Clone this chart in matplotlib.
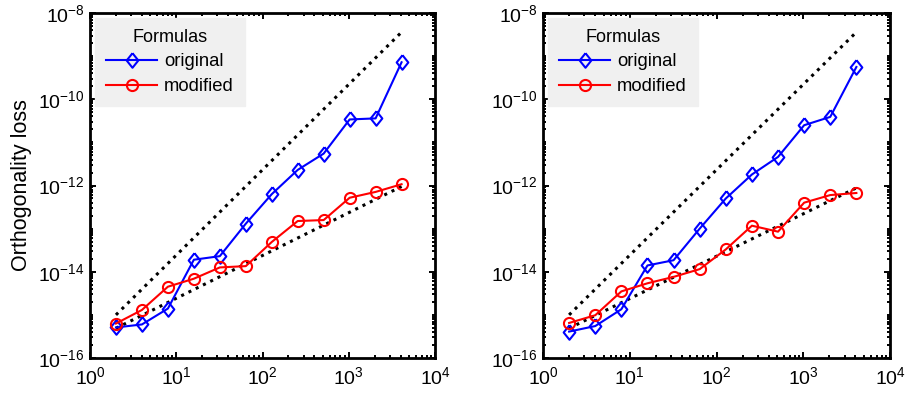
import matplotlib
matplotlib.use('Agg')
import matplotlib.pyplot as plt
from matplotlib.ticker import LogLocator, NullFormatter

plt.rcParams['font.family'] = ['Liberation Sans', 'DejaVu Sans']
plt.rcParams['mathtext.fontset'] = 'custom'
plt.rcParams['mathtext.rm'] = 'Liberation Sans'

n = [2, 4, 8, 16, 32, 64, 128, 256, 512, 1024, 2048, 4096]

# left panel
orig_left = [5.1e-16, 6.0e-16, 1.4e-15, 1.9e-14, 2.3e-14, 1.3e-13, 6.3e-13,
             2.3e-12, 5.5e-12, 3.4e-11, 3.6e-11, 7.2e-10]
mod_left = [6.3e-16, 1.3e-15, 4.5e-15, 6.9e-15, 1.26e-14, 1.35e-14, 4.9e-14,
            1.5e-13, 1.58e-13, 5.2e-13, 7.1e-13, 1.07e-12]

# right panel
orig_right = [4.1e-16, 5.5e-16, 1.35e-15, 1.4e-14, 1.85e-14, 1.0e-13, 5.0e-13,
              1.8e-12, 4.6e-12, 2.5e-11, 3.9e-11, 5.6e-10]
mod_right = [6.5e-16, 9.8e-16, 3.5e-15, 5.4e-15, 7.6e-15, 1.15e-14, 3.3e-14,
             1.17e-13, 8.5e-14, 4.0e-13, 6.0e-13, 6.7e-13]

# reference slopes (end points)
ref_x = [2, 4096]
ref_hi = [1.0e-15, 3.6e-9]
ref_lo_left = [4.9e-16, 9.5e-13]
ref_lo_right = [4.9e-16, 8.8e-13]

# matlab-like diamond (a bit taller than wide)
diamond = [(0, 1), (0.8, 0), (0, -1), (-0.8, 0), (0, 1)]

fig = plt.figure(figsize=(9.09, 3.98), dpi=100)
ax1 = fig.add_axes([90 / 909, 40 / 398, 345 / 909, 345 / 398])
ax2 = fig.add_axes([543 / 909, 40 / 398, 347 / 909, 345 / 398])


def draw(ax, orig, mod, lo):
    ax.plot(ref_x, ref_hi, ':', color='black', lw=2.2)
    ax.plot(ref_x, lo, ':', color='black', lw=2.2)
    ax.plot(n, orig, '-', marker=diamond, color='#0000ff', mfc='none',
            mec='#0000ff', ms=10.5, mew=1.5, lw=1.5, label='original')
    ax.plot(n, mod, '-o', color='#ff0000', mfc='none', mec='#ff0000',
            ms=8, mew=1.5, lw=1.5, label='modified')
    ax.set_xscale('log')
    ax.set_yscale('log')
    ax.set_xlim(1, 1e4)
    ax.set_ylim(1e-16, 1e-8)
    ax.xaxis.set_major_locator(LogLocator(base=10, numticks=10))
    ax.xaxis.set_minor_locator(LogLocator(base=10, subs=range(2, 10), numticks=20))
    ax.xaxis.set_minor_formatter(NullFormatter())
    ax.set_yticks([1e-16, 1e-14, 1e-12, 1e-10, 1e-8])
    ax.yaxis.set_minor_locator(LogLocator(base=10, subs=range(1, 10), numticks=30))
    ax.yaxis.set_minor_formatter(NullFormatter())
    ax.tick_params(which='both', direction='in', top=True, right=True,
                   labelsize=14, width=1.4, colors='black')
    ax.tick_params(which='major', length=4)
    ax.tick_params(which='minor', length=2.2)
    ax.tick_params(axis='x', pad=6)
    ax.tick_params(axis='y', pad=4)
    for s in ax.spines.values():
        s.set_linewidth(2)
    leg = ax.legend(loc='upper left', title='Formulas', fontsize=13.3,
                    title_fontsize=13, handlelength=2.8, handletextpad=0.35,
                    frameon=True, fancybox=False, borderaxespad=0.25,
                    borderpad=0.6, labelspacing=0.42)
    leg.get_frame().set_facecolor('#f0f0f0')
    leg.get_frame().set_edgecolor('#f0f0f0')
    leg.get_frame().set_alpha(1)


draw(ax1, orig_left, mod_left, ref_lo_left)
draw(ax2, orig_right, mod_right, ref_lo_right)
ax1.set_ylabel('Orthogonality loss', fontsize=15.5, labelpad=4)

fig.savefig('out.png', dpi=100)
